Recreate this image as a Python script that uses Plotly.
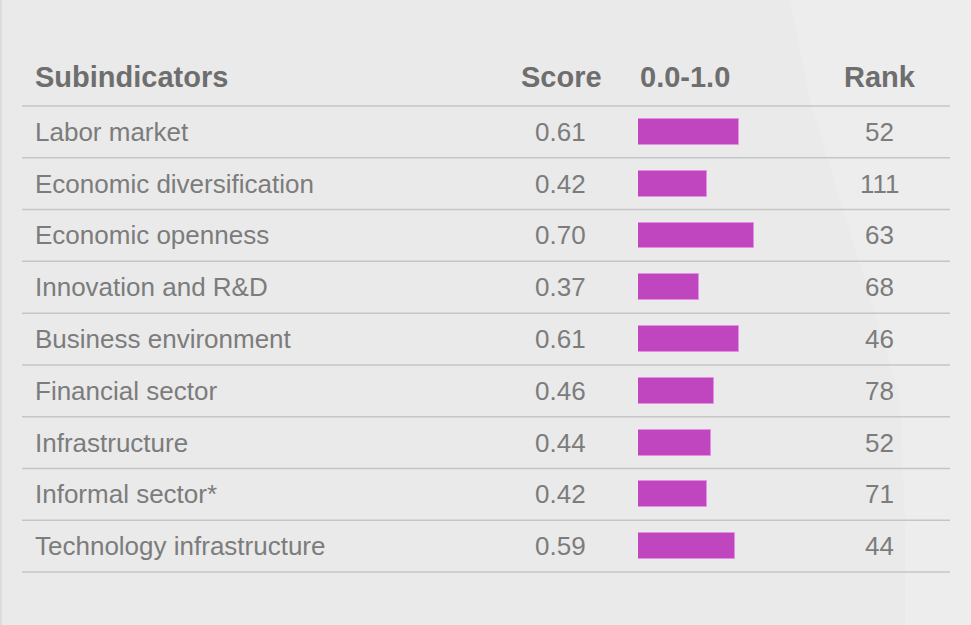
import plotly.graph_objects as go

categories = ["Labor market", "Economic diversification", "Economic openness",
              "Innovation and R&D", "Business environment", "Financial sector",
              "Infrastructure", "Informal sector*", "Technology infrastructure"]
scores = [0.61, 0.42, 0.70, 0.37, 0.61, 0.46, 0.44, 0.42, 0.59]
ranks = [52, 111, 63, 68, 46, 78, 52, 71, 44]
headers = ["Subindicators", "Score", "0.0-1.0", "Rank"]

W, H = 971, 625
row0, rowh = 131.9, 51.78
rows = list(range(len(categories)))

fig = go.Figure()
fig.add_trace(go.Bar(
    x=scores, y=rows, orientation="h", width=0.5,
    marker=dict(color="#bf46be", line=dict(color="#e48ee4", width=1)),
    hoverinfo="skip", showlegend=False,
))

TXT = "#7c7c7c"
HDR = "#6e6e6e"
FONT = "Arial, 'Liberation Sans', sans-serif"
bfont = dict(size=26, color=TXT, family=FONT)
ann = []
for i, (c, s, r) in enumerate(zip(categories, scores, ranks)):
    ann.append(dict(x=33 / W, y=i, xref="paper", yref="y", text=c, showarrow=False,
                    xanchor="left", yanchor="middle", font=bfont))
    ann.append(dict(x=560 / W, y=i, xref="paper", yref="y", text=f"{s:.2f}", showarrow=False,
                    xanchor="center", yanchor="middle", font=bfont))
    ann.append(dict(x=879.5 / W, y=i, xref="paper", yref="y", text=str(r), showarrow=False,
                    xanchor="center", yanchor="middle", font=bfont))

hy = -1.07
hfont = dict(size=29, color=HDR, family=FONT, weight="bold")
ann.append(dict(x=33 / W, y=hy, xref="paper", yref="y", text=headers[0], showarrow=False,
                xanchor="left", yanchor="middle", font=hfont))
ann.append(dict(x=561 / W, y=hy, xref="paper", yref="y", text=headers[1], showarrow=False,
                xanchor="center", yanchor="middle", font=hfont))
ann.append(dict(x=638 / W, y=hy, xref="paper", yref="y", text=headers[2], showarrow=False,
                xanchor="left", yanchor="middle", font=hfont))
ann.append(dict(x=879.5 / W, y=hy, xref="paper", yref="y", text=headers[3], showarrow=False,
                xanchor="center", yanchor="middle", font=hfont))

shapes = []
# faint lighter background texture on the right
pts = [(790, 0), (971, 0), (971, 625), (905, 625), (905, 520), (900, 400),
       (880, 330), (840, 200), (810, 100)]
path = "M " + " L ".join(f"{x / W:.4f},{1 - y / H:.4f}" for x, y in pts) + " Z"
shapes.append(dict(type="path", xref="paper", yref="paper", path=path,
                   fillcolor="#ededed", line=dict(width=0), layer="below"))
for k in range(len(categories) + 1):
    shapes.append(dict(type="line", xref="paper", yref="y", x0=22 / W, x1=950 / W,
                       y0=k - 0.5, y1=k - 0.5, line=dict(color="#c6c6c6", width=1.5)))
shapes.append(dict(type="rect", xref="paper", yref="paper", x0=0, x1=2 / W, y0=0, y1=1,
                   fillcolor="#dcdcdc", line=dict(width=0), layer="below"))

fig.update_layout(
    width=W, height=H, margin=dict(l=0, r=0, t=0, b=0),
    paper_bgcolor="#eaeaea", plot_bgcolor="rgba(0,0,0,0)",
    xaxis=dict(domain=[638 / W, 803 / W], range=[0, 1], visible=False, fixedrange=True),
    yaxis=dict(range=[(H - row0) / rowh, -row0 / rowh], visible=False, fixedrange=True),
    annotations=ann, shapes=shapes, bargap=0,
)
fig.write_html("out.html")
